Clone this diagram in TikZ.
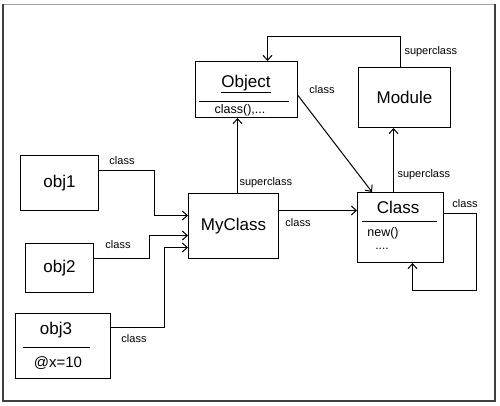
\documentclass[tikz,border=0pt]{standalone}
\usepackage{fontspec}
\setmainfont{Liberation Sans}
\usetikzlibrary{arrows.meta}
\begin{document}
\begin{tikzpicture}[x=1pt,y=-1pt,
  line width=1pt,
  box/.style={draw,rectangle,inner sep=0pt,anchor=north west},
  big/.style={font=\fontsize{17}{19}\selectfont},
  mid/.style={font=\fontsize{15}{17}\selectfont},
  lbl/.style={font=\fontsize{11}{13}\selectfont,inner sep=1pt},
  arr/.style={-{Straight Barb[length=5pt,width=9pt]}}]
\useasboundingbox (0,0) rectangle (500,406);
% frame
\draw[line width=0.8pt,gray!70] (3,4) -- (495,4);
\draw[line width=2pt,black!75] (3,4) -- (3,401) -- (495,401) -- (495,4);
% boxes
\node[box,minimum width=78pt,minimum height=55pt] (obj1) at (20,155) {};
\node[big] at (obj1.center) {obj1};
\node[box,minimum width=68pt,minimum height=49pt] (obj2) at (25,243) {};
\node[big] at (obj2.center) {obj2};
\node[box,minimum width=95pt,minimum height=65pt] (obj3) at (15,313) {};
\node[big] (o3t) at (56,330) {obj3};
\draw[line width=0.8pt] (23,347) -- (90,347);
\node[mid] (o3a) at (58,363) {@x=10};
\node[box,minimum width=90pt,minimum height=65pt] (MyClass) at (188,193) {};
\node[big] at (MyClass.center) {MyClass};
\node[box,minimum width=102pt,minimum height=56pt] (Object) at (195,61) {};
\node[big] (objt) at (246,84) {\underline{Object}};
\draw[line width=0.8pt] (199,101) -- (289,101);
\node[font=\fontsize{12.5}{14}\selectfont] (objm) at (240,110) {class(),...};
\node[box,minimum width=92pt,minimum height=60pt] (Module) at (358,67) {};
\node[big] at (Module.center) {Module};
\node[box,minimum width=86pt,minimum height=70pt] (Class) at (357,192) {};
\node[big] (clt) at (398,207) {Class};
\draw[line width=0.8pt] (362,221) -- (437,221);
\node[font=\fontsize{12.5}{14}\selectfont] (cln) at (383,233) {new()};
\node[font=\fontsize{12}{14}\selectfont,inner sep=0pt] (cld) at (382,249) {....};
% connectors
\draw[arr] ([yshift=12.5pt]obj1.east) -- ++(55,0) |- ([yshift=10.5pt]MyClass.west);
\node[lbl] at (122,161) {class};
\draw[arr] ([yshift=9.5pt]obj2.east) -- ++(55,0) |- ([yshift=-9.5pt]MyClass.west);
\node[lbl] at (118,245) {class};
\draw[arr] ([yshift=18.5pt]obj3.east) -- ++(53,0) |- ([yshift=-21.5pt]MyClass.west);
\node[lbl] at (134,339) {class};
\draw[arr] ([xshift=4pt]MyClass.north) -- ([xshift=-9pt]Object.south);
\node[lbl,anchor=west] at (238,183) {superclass};
\draw[arr] ([yshift=15.5pt]MyClass.east) -- ([yshift=17pt]Class.west);
\node[lbl] at (298,223) {class};
\draw[arr] ([yshift=-6pt]Object.east) -- ([xshift=15pt]Class.north west);
\node[lbl] at (322,90) {class};
\draw[arr] ([xshift=-7pt]Class.north) -- ([xshift=-11pt]Module.south);
\node[lbl,anchor=west] at (396,175) {superclass};
\draw[arr] ([xshift=-4pt]Module.north) -- ++(0,-30) -| ([xshift=21pt]Object.north);
\node[lbl,anchor=west] at (403,52) {superclass};
\draw[arr] ([yshift=14pt]Class.east) -- ++(32,0) -- ++(0,77) -| ([xshift=12pt]Class.south);
\node[lbl] at (465,204) {class};
\end{tikzpicture}
\end{document}
